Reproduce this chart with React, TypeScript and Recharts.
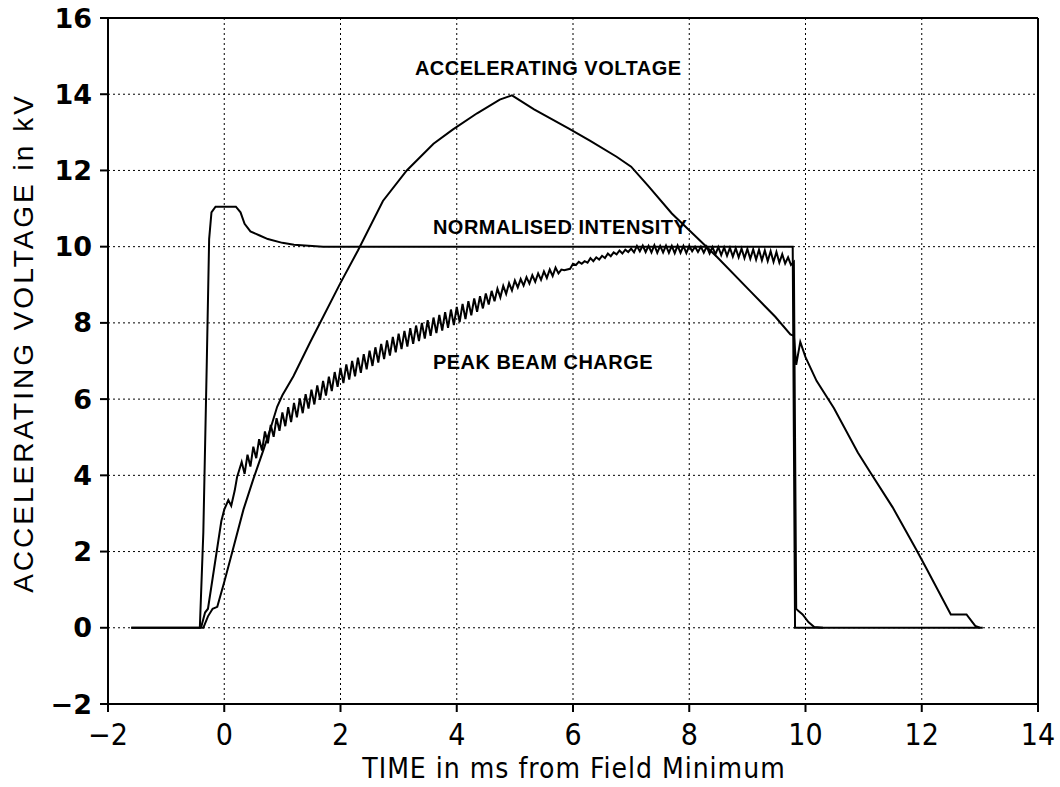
import React from 'react';
import {
  LineChart,
  Line,
  XAxis,
  YAxis,
  CartesianGrid,
  ReferenceLine,
  ReferenceDot,
  Label,
} from 'recharts';

type Pt = [number, number];

const xTicks = [-2, 0, 2, 4, 6, 8, 10, 12, 14];
const yTicks = [-2, 0, 2, 4, 6, 8, 10, 12, 14, 16];

// time (ms), kV
const accVoltage: Pt[] = [
  [-1.6, 0], [-0.36, 0], [-0.28, 0.3], [-0.2, 0.5], [-0.12, 0.55], [0, 1.2], [0.14, 2.0],
  [0.33, 3.1], [0.5, 3.9], [0.67, 4.65], [0.8, 5.25], [0.91, 5.8], [1.0, 6.1], [1.19, 6.6],
  [1.48, 7.5], [2.0, 9.05], [2.3, 9.9], [2.73, 11.2], [3.14, 12.0], [3.6, 12.7], [3.93, 13.07],
  [4.35, 13.5], [4.74, 13.86], [4.95, 13.97], [5.33, 13.6], [5.93, 13.1], [6.29, 12.78],
  [6.75, 12.36], [7.0, 12.1], [7.29, 11.6], [7.7, 10.87], [8.13, 10.24], [8.47, 9.74],
  [9.07, 8.8], [9.48, 8.16], [9.74, 7.7], [9.8, 7.66], [9.84, 6.9], [9.91, 7.5], [10.0, 7.1],
  [10.19, 6.48], [10.49, 5.76], [10.9, 4.6], [11.13, 4.04], [11.5, 3.16], [11.9, 2.07],
  [12.09, 1.53], [12.5, 0.35], [12.77, 0.35], [12.92, 0.05], [13.0, 0],
];

const intensity: Pt[] = [
  [-1.6, 0], [-0.42, 0], [-0.36, 2.5], [-0.3, 7], [-0.26, 10.2], [-0.22, 10.9],
  [-0.15, 11.05], [0.2, 11.05], [0.28, 10.9], [0.35, 10.6], [0.45, 10.4], [0.6, 10.3],
  [0.75, 10.2], [1.0, 10.1], [1.2, 10.05], [1.7, 10.0], [9.78, 10.0], [9.8, 5],
  [9.82, 0], [13.05, 0],
];

const beamCharge: Pt[] = [
  [-0.4, 0], [-0.33, 0.4], [-0.28, 0.5], [-0.2, 1.3], [-0.12, 2.1], [-0.05, 2.8], [0, 3.1],
  [0.07, 3.35], [0.12, 3.2], [0.18, 3.6], [0.22, 3.95],
  [0.3, 4.35], [0.35, 4.04], [0.4, 4.54], [0.45, 4.23], [0.5, 4.75], [0.55, 4.45], [0.6, 4.95],
  [0.65, 4.65], [0.7, 5.15], [0.75, 4.84], [0.8, 5.32], [0.85, 5.01], [0.9, 5.5], [0.95, 5.17],
  [1.0, 5.65], [1.05, 5.29], [1.1, 5.79], [1.15, 5.4], [1.2, 5.9], [1.25, 5.52], [1.3, 6.02],
  [1.35, 5.63], [1.4, 6.13], [1.45, 5.75], [1.5, 6.25], [1.55, 5.86], [1.6, 6.36], [1.65, 5.98],
  [1.7, 6.48], [1.75, 6.09], [1.8, 6.59], [1.85, 6.21], [1.9, 6.71], [1.95, 6.32], [2.0, 6.82],
  [2.05, 6.42], [2.1, 6.91], [2.15, 6.51], [2.2, 7.0], [2.25, 6.6], [2.3, 7.09], [2.35, 6.69],
  [2.4, 7.18], [2.45, 6.78], [2.5, 7.27], [2.55, 6.87], [2.6, 7.36], [2.65, 6.96], [2.7, 7.45],
  [2.75, 7.05], [2.8, 7.54], [2.85, 7.14], [2.9, 7.63], [2.95, 7.23], [3.0, 7.72],
  [3.05, 7.31], [3.1, 7.79], [3.15, 7.38], [3.2, 7.86], [3.25, 7.45], [3.3, 7.93], [3.35, 7.52],
  [3.4, 8.0], [3.45, 7.59], [3.5, 8.07], [3.55, 7.66], [3.6, 8.14], [3.65, 7.73], [3.7, 8.21],
  [3.75, 7.8], [3.8, 8.28], [3.85, 7.87], [3.9, 8.35], [3.95, 7.94], [4.0, 8.42],
  [4.05, 8.02], [4.1, 8.5], [4.15, 8.1], [4.2, 8.57], [4.25, 8.2], [4.3, 8.64], [4.35, 8.29],
  [4.4, 8.7], [4.45, 8.38], [4.5, 8.77], [4.55, 8.48], [4.6, 8.84], [4.65, 8.57], [4.7, 8.9],
  [4.75, 8.67], [4.8, 8.97], [4.85, 8.76], [4.9, 9.04], [4.95, 8.85], [5.0, 9.11],
  [5.05, 8.93], [5.1, 9.15], [5.15, 8.98], [5.2, 9.2], [5.25, 9.03], [5.3, 9.25], [5.35, 9.08],
  [5.4, 9.3], [5.45, 9.13], [5.5, 9.35], [5.55, 9.18], [5.6, 9.4], [5.65, 9.23], [5.7, 9.45],
  [5.75, 9.3], [5.8, 9.4], [5.85, 9.38], [5.9, 9.4], [5.95, 9.42], [6.0, 9.55],
  [6.05, 9.52], [6.1, 9.6], [6.15, 9.55], [6.2, 9.62], [6.25, 9.58], [6.3, 9.7], [6.35, 9.62],
  [6.4, 9.72], [6.45, 9.66], [6.5, 9.76], [6.55, 9.7], [6.6, 9.82], [6.65, 9.75], [6.7, 9.85],
  [6.75, 9.8], [6.8, 9.9], [6.85, 9.82], [6.9, 9.92], [6.95, 9.86], [7.0, 9.95],
  [7.05, 9.85], [7.1, 10.02], [7.15, 9.88], [7.2, 10.03], [7.25, 9.86], [7.3, 10.02],
  [7.35, 9.85], [7.4, 10.04], [7.45, 9.84], [7.5, 10.02], [7.55, 9.85], [7.6, 10.03],
  [7.65, 9.84], [7.7, 10.02], [7.75, 9.83], [7.8, 10.03], [7.85, 9.84], [7.9, 10.02],
  [7.95, 9.83], [8.0, 10.02],
  [8.05, 9.88], [8.1, 10.0], [8.15, 9.86], [8.2, 10.0], [8.25, 9.84], [8.3, 10.0], [8.35, 9.82],
  [8.4, 9.99], [8.45, 9.8], [8.5, 9.99], [8.55, 9.78], [8.6, 9.98], [8.65, 9.76], [8.7, 9.97],
  [8.75, 9.74], [8.8, 9.96], [8.85, 9.72], [8.9, 9.95], [8.95, 9.7], [9.0, 9.94],
  [9.05, 9.68], [9.1, 9.93], [9.15, 9.66], [9.2, 9.92], [9.25, 9.64], [9.3, 9.9], [9.35, 9.62],
  [9.4, 9.88], [9.45, 9.6], [9.5, 9.86], [9.55, 9.58], [9.6, 9.8], [9.65, 9.56], [9.7, 9.72],
  [9.75, 9.52], [9.8, 9.6], [9.82, 5], [9.84, 0.5], [9.87, 0.45], [9.95, 0.35],
  [10.05, 0.15], [10.15, 0.02], [10.3, 0],
];

const toRows = (pts: Pt[]) => pts.map(([t, v]) => ({ t, v }));

const fmt = (v: number) => (v < 0 ? '\u2212' + Math.abs(v) : String(v));

const noteStyle = {
  fill: '#000',
  fontSize: 20,
  fontWeight: 'bold',
  letterSpacing: 0.5,
  fontFamily: 'Liberation Sans, Arial, sans-serif',
};

const YTitle = () => {
  const cx = 23;
  const cy = 343;
  return (
    <text
      x={cx}
      y={cy}
      transform={`rotate(-90 ${cx} ${cy})`}
      textAnchor="middle"
      dominantBaseline="central"
      fill="#000"
      fontSize={28}
      letterSpacing={3}
      fontFamily="Liberation Sans, Arial, sans-serif"
    >
      ACCELERATING VOLTAGE in kV
    </text>
  );
};

const XTitle = () => (
  <text
    x={574}
    y={768}
    textAnchor="middle"
    dominantBaseline="central"
    fill="#000"
    fontSize={28}
    letterSpacing={1}
    fontFamily="'Liberation Sans Narrow', 'DejaVu Sans Condensed', sans-serif"
  >
    TIME in ms from Field Minimum
  </text>
);

const App: React.FC = () => {
  return (
    <div style={{ position: 'absolute', left: 0, top: 0, background: '#fff' }}>
      <LineChart width={1060} height={787} margin={{ top: 18, right: 22, bottom: 0, left: 0 }}>
        <CartesianGrid stroke="#000" strokeDasharray="2 3" strokeWidth={1} />
        <XAxis
          dataKey="t"
          type="number"
          domain={[-2, 14]}
          ticks={xTicks}
          allowDataOverflow
          height={83}
          axisLine={{ stroke: '#000', strokeWidth: 2 }}
          tickLine={{ stroke: '#000', strokeWidth: 2 }}
          tickSize={8}
          tickMargin={12}
          tickFormatter={fmt}
          tick={{
            fill: '#000',
            fontSize: 30,
            fontFamily: "'Liberation Sans Narrow', 'DejaVu Sans Condensed', sans-serif",
          }}
        >
          <Label content={<XTitle />} />
        </XAxis>
        <YAxis
          type="number"
          domain={[-2, 16]}
          ticks={yTicks}
          allowDataOverflow
          width={108}
          axisLine={{ stroke: '#000', strokeWidth: 2 }}
          tickLine={{ stroke: '#000', strokeWidth: 2 }}
          tickSize={8}
          tickMargin={8}
          tickFormatter={fmt}
          tick={{
            fill: '#000',
            fontSize: 27,
            fontWeight: 'bold',
            fontFamily: 'DejaVu Sans, sans-serif',
          }}
        >
          <Label content={<YTitle />} />
        </YAxis>
        <ReferenceLine y={16} stroke="#000" strokeWidth={2} />
        <ReferenceLine x={14} stroke="#000" strokeWidth={2} />
        <Line
          data={toRows(accVoltage)}
          dataKey="v"
          type="linear"
          stroke="#000"
          strokeWidth={2}
          dot={false}
          isAnimationActive={false}
        />
        <Line
          data={toRows(intensity)}
          dataKey="v"
          type="linear"
          stroke="#000"
          strokeWidth={2}
          dot={false}
          isAnimationActive={false}
        />
        <Line
          data={toRows(beamCharge)}
          dataKey="v"
          type="linear"
          stroke="#000"
          strokeWidth={2}
          dot={false}
          isAnimationActive={false}
        />
        <ReferenceDot
          x={3.28}
          y={14.7}
          r={0}
          ifOverflow="visible"
          label={{ value: 'ACCELERATING VOLTAGE', position: 'right', offset: 0, ...noteStyle }}
        />
        <ReferenceDot
          x={3.59}
          y={10.52}
          r={0}
          ifOverflow="visible"
          label={{ value: 'NORMALISED INTENSITY', position: 'right', offset: 0, ...noteStyle }}
        />
        <ReferenceDot
          x={3.59}
          y={6.98}
          r={0}
          ifOverflow="visible"
          label={{ value: 'PEAK BEAM CHARGE', position: 'right', offset: 0, ...noteStyle }}
        />
      </LineChart>
    </div>
  );
};

export default App;
